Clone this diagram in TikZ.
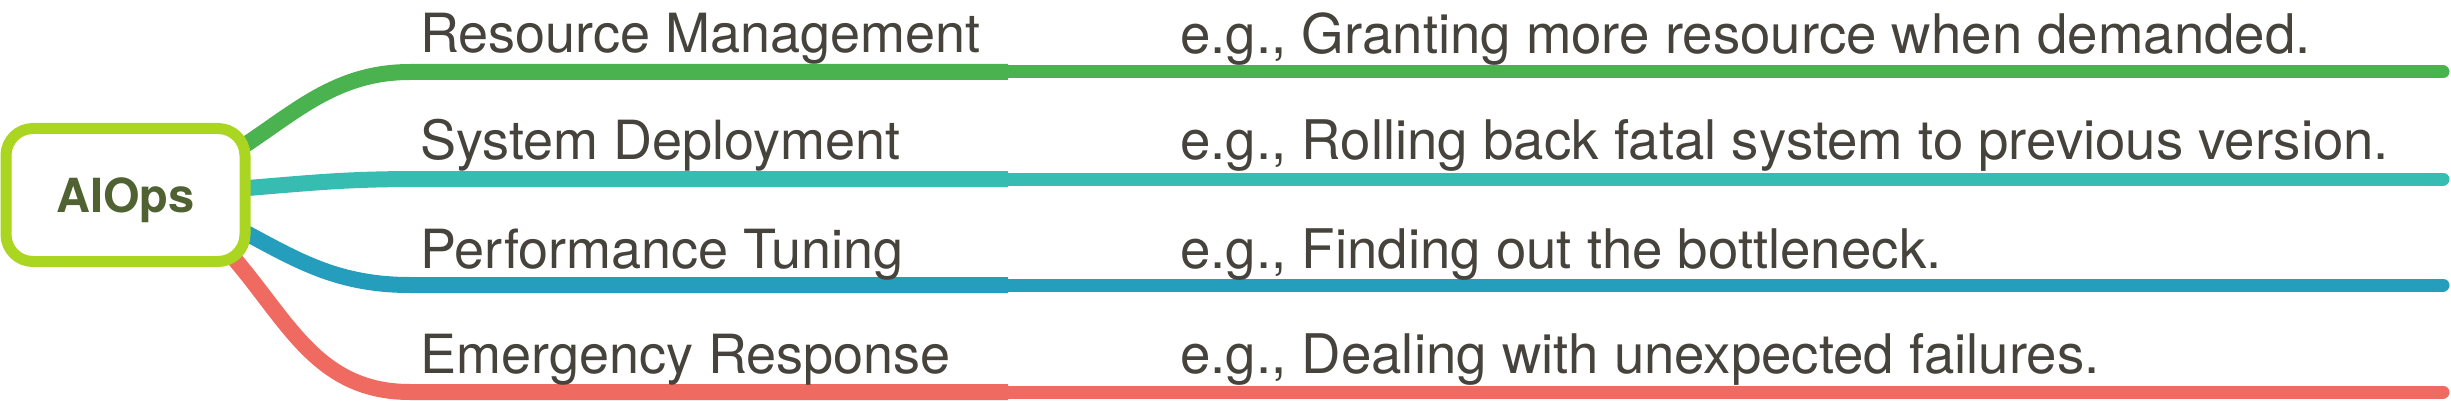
\documentclass[tikz,border=0pt]{standalone}
\usepackage{fontspec}
\setmainfont{TeX Gyre Heros}
\usetikzlibrary{backgrounds}
\definecolor{cgreen}{RGB}{75,178,80}
\definecolor{cteal}{RGB}{54,188,176}
\definecolor{cblue}{RGB}{37,157,188}
\definecolor{cred}{RGB}{239,106,97}
\definecolor{clime}{RGB}{170,214,34}
\definecolor{colive}{RGB}{80,98,50}
\definecolor{txtgray}{RGB}{70,66,60}
\begin{document}
\begin{tikzpicture}[x=0.5pt,y=-0.5pt,
  thickbranch/.style={line width=8pt},
  thinbranch/.style={line width=6.5pt, line cap=round},
  lbl/.style={anchor=base west, inner sep=0pt, text=txtgray, font=\fontsize{27}{30}\selectfont},
  desc/.style={lbl, font=\fontsize{27.3}{30}\selectfont},
  rootbox/.style={draw=clime, line width=5.5pt, rounded corners=13.5pt, fill=white,
    minimum width=119.5pt, minimum height=66.5pt, inner sep=0pt, text depth=0pt,
    text=colive, font=\fontsize{23.5}{26}\selectfont\bfseries}]
\useasboundingbox (0,0) rectangle (2451,401);
\node[rootbox] (aiops) at (125.5,195) {AIOps};
% labels
\node[lbl] (l1) at (420,53) {Resource Management};
\node[lbl] (l2) at (420,160) {System Deployment};
\node[lbl] (l3) at (420,268) {Performance Tuning};
\node[lbl] (l4) at (420,373) {Emergency Response};
\node[desc] (d1) at (1180,54) {e.g., Granting more resource when demanded.};
\node[desc] (d2) at (1180,160) {e.g., Rolling back fatal system to previous version.};
\node[desc] (d3) at (1180,268) {e.g., Finding out the bottleneck.};
\node[desc] (d4) at (1180,373) {e.g., Dealing with unexpected failures.};
% coordinates
\coordinate (g0) at (234,152); \coordinate (g1) at (248,143); \coordinate (g2) at (410,72);
\coordinate (g3) at (1008,72); \coordinate (g4) at (2443,72);
\coordinate (t0) at (232,189); \coordinate (t1) at (248,188); \coordinate (t2) at (420,179);
\coordinate (t3) at (1008,179); \coordinate (t4) at (2443,179);
\coordinate (b0) at (234,227); \coordinate (b1) at (248,234); \coordinate (b2) at (410,285);
\coordinate (b3) at (1008,285); \coordinate (b4) at (2443,285);
\coordinate (r0) at (228,251); \coordinate (r1) at (237,262); \coordinate (r2) at (410,392);
\coordinate (r3) at (1008,392); \coordinate (r4) at (2443,392);
\begin{scope}[on background layer]
\draw[thickbranch, cgreen] (g0) -- (g1) .. controls (300,108) and (340,72) .. (g2) -- (g3);
\draw[thinbranch, cgreen] (g3) -- (g4);
\draw[thickbranch, cteal] (t0) -- (t1) .. controls (320,182) and (350,179) .. (t2) -- (t3);
\draw[thinbranch, cteal] (t3) -- (t4);
\draw[thickbranch, cblue] (b0) -- (b1) .. controls (300,262) and (340,285) .. (b2) -- (b3);
\draw[thinbranch, cblue] (b3) -- (b4);
\draw[thickbranch, cred] (r0) -- (r1) .. controls (290,325) and (320,392) .. (r2) -- (r3);
\draw[thinbranch, cred] (r3) -- (r4);
\end{scope}
\end{tikzpicture}
\end{document}
